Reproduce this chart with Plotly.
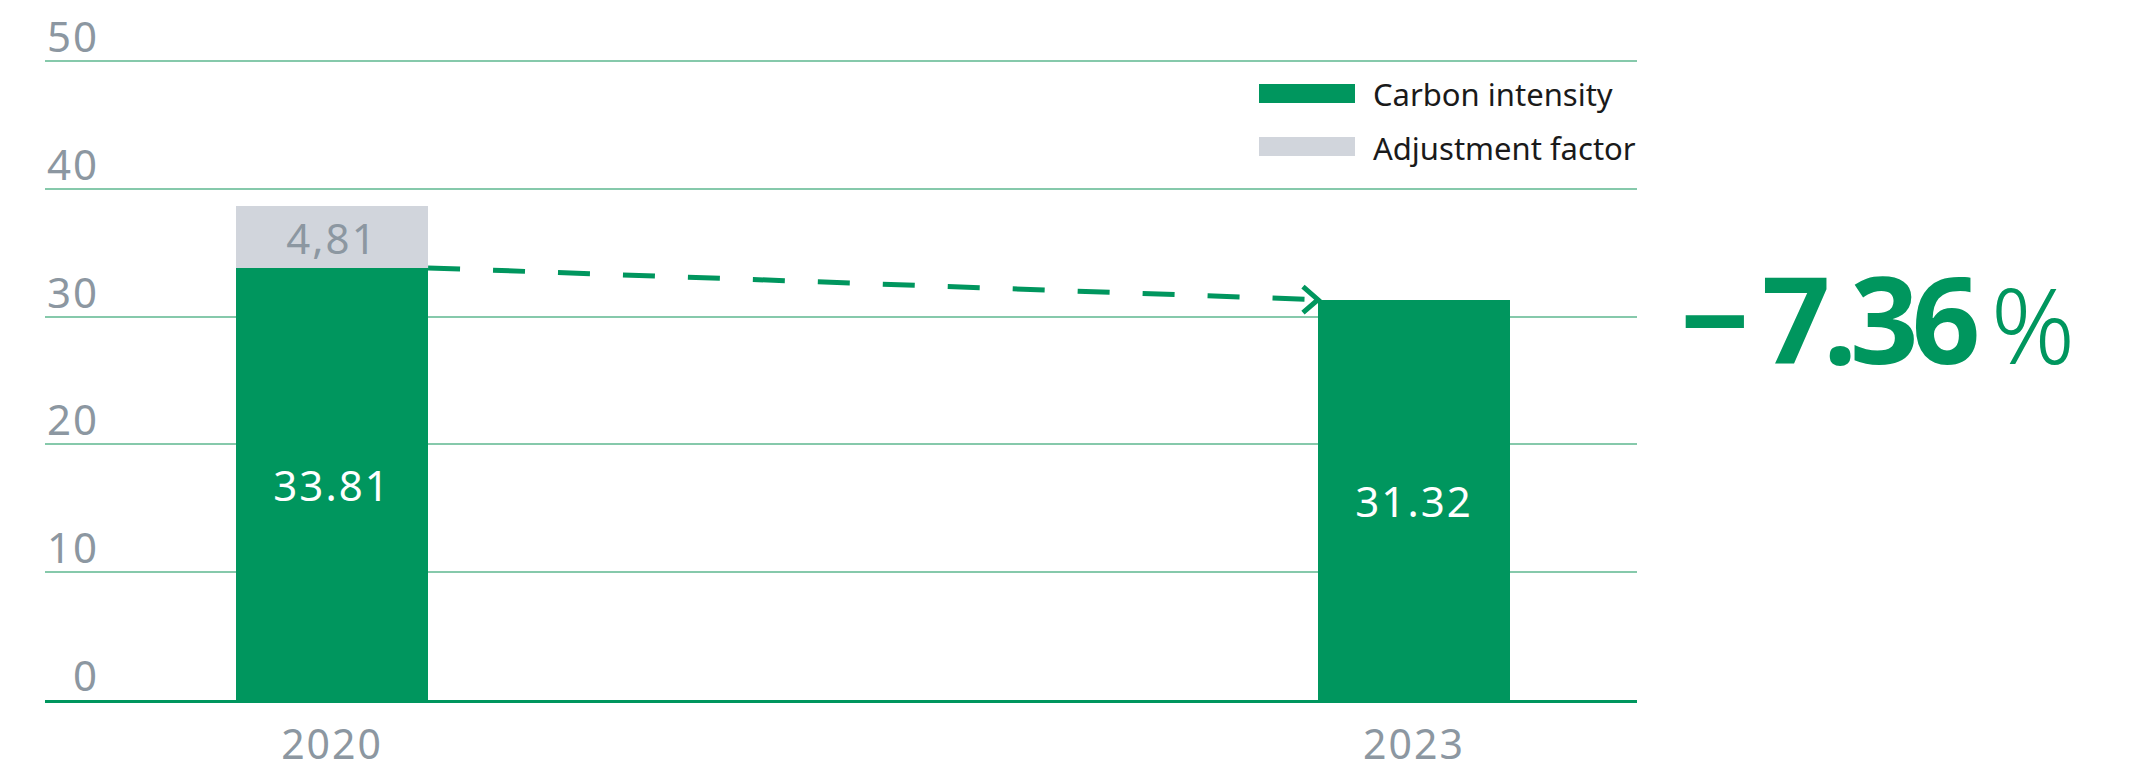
import plotly.graph_objects as go

# ---- data ----
years = ["2020", "2023"]
carbon_intensity = [33.81, 31.32]
adjustment_factor = [4.81, None]
carbon_labels = ["33.81", "31.32"]
adjustment_labels = ["4,81", ""]
y_ticks = [0, 10, 20, 30, 40, 50]
legend_names = ["Carbon intensity", "Adjustment factor"]

# ---- style ----
GREEN = "#00965e"
GRAY_BAR = "#d1d5dc"
GRAY_TXT = "#8c97a1"
GRID = "#86c9ab"
FONT = "Noto Sans"

W, H = 2130, 770
ML, MR, MT, MB = 45, 493, 58, 70
PW, PH = W - ML - MR, H - MT - MB
PX_PER_UNIT = 12.78
XR = [-0.2653, 1.2061]
YR = [0, PH / PX_PER_UNIT]
BW = 0.1775

px_x = PW / (XR[1] - XR[0])
px_y = PH / (YR[1] - YR[0])

xs = list(range(len(years)))


def spaced(s, ls=2):
    return f"<span style='letter-spacing:{ls}px'>{s}</span>" if s else s


fig = go.Figure()
fig.add_trace(go.Bar(
    x=xs, y=carbon_intensity, width=BW, marker=dict(color=GREEN, line=dict(width=0)),
    text=[spaced(s) for s in carbon_labels], textposition="inside", insidetextanchor="middle",
    textfont=dict(color="white", size=42, family=FONT), constraintext="none",
    name=legend_names[0], showlegend=False, hoverinfo="skip"))
fig.add_trace(go.Bar(
    x=xs, y=adjustment_factor, width=BW, marker=dict(color=GRAY_BAR, line=dict(width=0)),
    text=[spaced(s) for s in adjustment_labels], textposition="inside", insidetextanchor="middle",
    textfont=dict(color=GRAY_TXT, size=42, family=FONT), constraintext="none",
    name=legend_names[1], showlegend=False, hoverinfo="skip"))

# dashed connector between bar tops
x0 = xs[0] + BW / 2
x1 = xs[1] - BW / 2
fig.add_trace(go.Scatter(
    x=[x0, x1], y=[carbon_intensity[0], carbon_intensity[1]], mode="lines",
    line=dict(color=GREEN, width=5, dash="32px,33px"), showlegend=False, hoverinfo="skip"))
# open chevron head
dx = 15 / px_x
dy = 13 / px_y
fig.add_trace(go.Scatter(
    x=[x1 - dx, x1, x1 - dx],
    y=[carbon_intensity[1] + dy, carbon_intensity[1], carbon_intensity[1] - dy],
    mode="lines", line=dict(color=GREEN, width=5), showlegend=False, hoverinfo="skip"))

annotations = []
# y tick labels above gridlines, right aligned
for t in y_ticks:
    annotations.append(dict(
        x=(101 - ML) / PW, xref="paper", xanchor="right", y=t, yref="y", yanchor="middle",
        yshift=25.5, text=spaced(str(t), 2), showarrow=False,
        font=dict(family=FONT, size=42, color=GRAY_TXT)))

# change annotation
pct = (carbon_intensity[1] - carbon_intensity[0]) / carbon_intensity[0] * 100
pct_num = f"{abs(pct):.2f}"
sign = "\u2212" if pct < 0 else "+"
annotations.append(dict(
    x=(1678 - ML) / PW, xref="paper", xanchor="left",
    y=(H - MB - 317.5) / PH, yref="paper", yanchor="middle",
    text=(f"<b>{sign}</b>\u200a<b><span style='letter-spacing:-7px'>{pct_num}</span></b>"
          f"<span style='font-size:104px;font-weight:300'>\u2009%</span>"),
    showarrow=False,
    font=dict(family=FONT, size=120, color=GREEN)))

# custom legend
shapes = []
leg_rows = [(84, 103, GREEN), (137, 156, GRAY_BAR)]
for (top, bot, col), name in zip(leg_rows, legend_names):
    shapes.append(dict(type="rect", xref="paper", yref="paper",
                       x0=(1259 - ML) / PW, x1=(1355 - ML) / PW,
                       y0=(H - MB - bot) / PH, y1=(H - MB - top) / PH,
                       fillcolor=col, line=dict(width=0)))
    annotations.append(dict(
        x=(1371 - ML) / PW, xref="paper", xanchor="left",
        y=(H - MB - (top + bot) / 2 - 1) / PH, yref="paper", yanchor="middle",
        text=name, showarrow=False, font=dict(family=FONT, size=31, color="#1a1a1a")))

fig.update_layout(
    width=W, height=H, margin=dict(l=ML, r=MR, t=MT, b=MB, autoexpand=False),
    paper_bgcolor="white", plot_bgcolor="white",
    barmode="stack", bargap=0,
    annotations=annotations, shapes=shapes,
    xaxis=dict(range=XR, tickvals=xs, ticktext=[spaced(y, 2) for y in years],
               showgrid=False, zeroline=False,
               showline=True, linecolor=GREEN, linewidth=3, ticks="", automargin=False,
               tickfont=dict(family=FONT, size=41, color=GRAY_TXT), ticklabelstandoff=7),
    yaxis=dict(range=YR, tickvals=y_ticks, showticklabels=False, showgrid=True,
               gridcolor=GRID, gridwidth=1.5, zeroline=False, showline=False, ticks="",
               automargin=False),
)

fig.write_html("out.html")
